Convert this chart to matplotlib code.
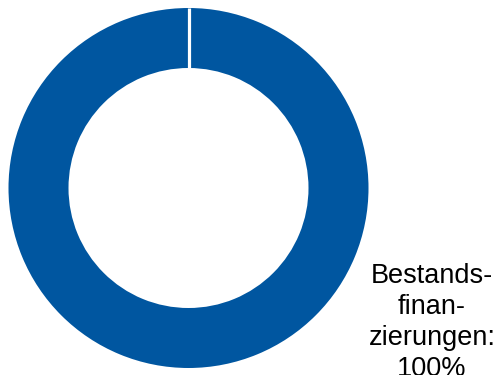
import matplotlib
matplotlib.use("Agg")
import matplotlib.pyplot as plt

plt.rcParams['font.family'] = ['Liberation Sans', 'DejaVu Sans']

categories = ["Bestands-\nfinan-\nzierungen"]
shares = [100]
colors = ['#0056a0']

W, H = 496, 375
fig = plt.figure(figsize=(W / 100, H / 100), dpi=100)

# donut centre ~ (188.5, 187) px from bottom-left, outer radius ~180 px
cx, cy, r = 188.5, 187, 180
ax = fig.add_axes([(cx - r) / W, (cy - r) / H, 2 * r / W, 2 * r / H])
wedges, _ = ax.pie(shares, colors=colors, startangle=90, counterclock=False,
                   radius=1, wedgeprops=dict(width=1/3, edgecolor='white',
                                             linewidth=0))
ax.set_xlim(-1, 1)
ax.set_ylim(-1, 1)
ax.set_aspect('equal')
ax.axis('off')

# a full 360 deg wedge has no radial edge, so draw the white seam at its start
w = wedges[0]
ax.plot([0, 0], [w.r - w.width, w.r], color='white', lw=2.3,
        solid_capstyle='butt')

label = f"{categories[0]}:\n{shares[0]}%"
fig.text(432 / W, 1 - 263 / H, label, ha='center', va='top', fontsize=19.5,
         linespacing=1.25)

fig.savefig("out.png", dpi=100)
